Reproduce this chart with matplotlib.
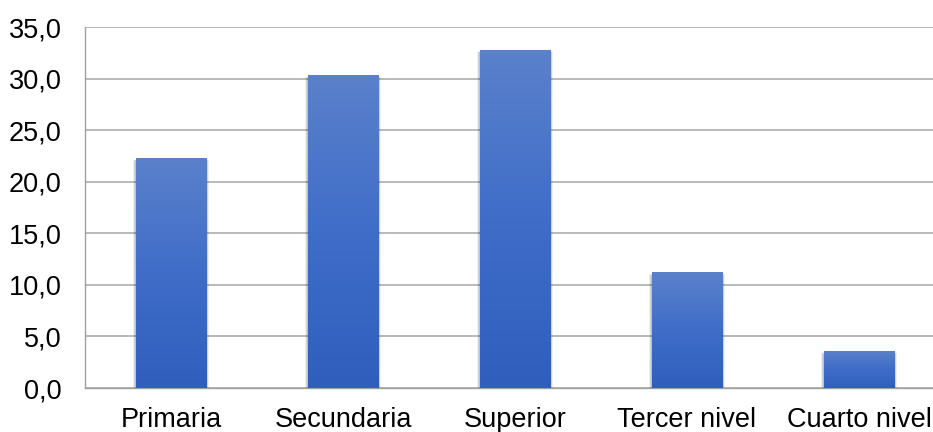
import numpy as np
import matplotlib
matplotlib.use("Agg")
import matplotlib.pyplot as plt
from matplotlib.colors import LinearSegmentedColormap
from matplotlib.patches import Rectangle

categories = ["Primaria", "Secundaria", "Superior", "Tercer nivel", "Cuarto nivel"]
values = [22.3, 30.3, 32.8, 11.2, 3.6]
y_ticks = [0, 5, 10, 15, 20, 25, 30, 35]
y_tick_labels = ["0,0", "5,0", "10,0", "15,0", "20,0", "25,0", "30,0", "35,0"]

plt.rcParams["font.family"] = ["Liberation Sans", "DejaVu Sans"]

fig = plt.figure(figsize=(9.33, 4.32), dpi=100)
W, H = 933, 432
left, right, top, bottom = 85, 945, 27, 388
ax = fig.add_axes([left / W, 1 - bottom / H, (right - left) / W, (bottom - top) / H])

x = np.arange(len(categories))
bar_w = 0.407

grad = LinearSegmentedColormap.from_list("barfill", ["#2F5EBD", "#3F6DC8", "#5B81CB"])
img = np.linspace(0, 1, 256).reshape(-1, 1)

bars = ax.bar(x, values, width=bar_w, color="none", zorder=3)
for b in bars:
    bx, bw, bh = b.get_x(), b.get_width(), b.get_height()
    # soft drop shadow
    for i, a in enumerate([0.05, 0.06, 0.07, 0.08]):
        d = 0.014 + (3 - i) * 0.007
        sh = Rectangle((bx - d * 0.5, -0.35), bw + d, bh + 0.2 - i * 0.04,
                       facecolor="black", alpha=a, edgecolor="none", zorder=2)
        ax.add_patch(sh)
    im = ax.imshow(img, cmap=grad, aspect="auto", origin="lower",
                   extent=(bx, bx + bw, 0, bh), zorder=3, interpolation="bicubic")
    clip = Rectangle((bx, 0), bw, bh, transform=ax.transData)
    im.set_clip_path(clip)

ax.set_xlim(-0.5, len(categories) - 0.5)
ax.set_ylim(0, 35)

ax.set_yticks(y_ticks)
ax.set_yticklabels(y_tick_labels)
ax.set_xticks(x)
ax.set_xticklabels(categories)
ax.tick_params(axis="both", length=0, labelsize=19.5, colors="black")
ax.tick_params(axis="y", pad=17)
ax.tick_params(axis="x", pad=14)

ax.yaxis.grid(True, color="#A6A6A6", linewidth=1.1, zorder=0)
ax.set_axisbelow(True)
for s in ["top", "right"]:
    ax.spines[s].set_visible(False)
ax.spines["left"].set_color("#A0A0A0")
ax.spines["bottom"].set_color("#A0A0A0")
ax.spines["left"].set_linewidth(1.0)
ax.spines["bottom"].set_linewidth(1.0)

fig.savefig("out.png", dpi=100)
